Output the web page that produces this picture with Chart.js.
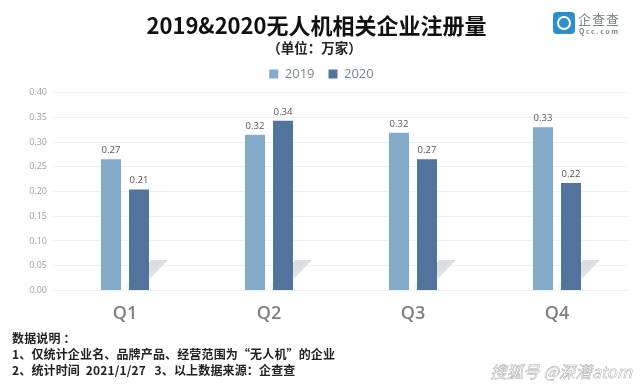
<!DOCTYPE html>
<html>
<head>
<meta charset="utf-8">
<script src="https://cdn.jsdelivr.net/npm/chart.js@4/dist/chart.umd.min.js"></script>
<style>
  html, body { margin: 0; background: #fff; }
  #wrap { position: relative; width: 640px; height: 385px; overflow: hidden; font-family: "Noto Sans CJK SC", sans-serif; }
  #notes { position: absolute; left: 12px; top: 330px; font-size: 12px; line-height: 16px; font-weight: 700; color: #222; white-space: pre; letter-spacing: 0.15px; }
  #mark { position: absolute; left: 490px; top: 359px; font-size: 16.5px; font-style: italic; color: #fff; -webkit-text-stroke: 0.5px #aaa; white-space: pre; }
  #logo { position: absolute; left: 553px; top: 12px; width: 22px; height: 22px; border-radius: 4px; background: #2a8fca; }
  #logo i { position: absolute; left: 4px; top: 4px; width: 10px; height: 10px; border: 2px solid #fff; border-radius: 50%; }
  #logoName { position: absolute; left: 578px; top: 9px; font-size: 13px; letter-spacing: 1px; color: #7a828c; }
  #logoSub { position: absolute; left: 579px; top: 26px; font-size: 7px; letter-spacing: 1.6px; font-weight: 700; color: #7a828c; }
</style>
</head>
<body>
<div id="wrap">
  <canvas id="chart" width="640" height="385"></canvas>
  <div id="logo"><i></i></div>
  <div id="logoName">企查查</div>
  <div id="logoSub">Qcc.com</div>
  <div id="notes">数据说明 ：
1、仅统计企业名、品牌产品、经营范围为“无人机”的企业
2、统计时间  2021/1/27   3、以上数据来源：企查查</div>
  <div id="mark">搜狐号 @深潜atom</div>
</div>
<script>
const quarters = ['Q1', 'Q2', 'Q3', 'Q4'];
const values2019 = [0.265, 0.315, 0.319, 0.33];
const values2020 = [0.204, 0.343, 0.265, 0.217];
const labels2019 = ['0.27', '0.32', '0.32', '0.33'];
const labels2020 = ['0.21', '0.34', '0.27', '0.22'];
const yMax = 0.4;
const yStep = 0.05;

// the header isn't centred on the canvas in the original, nudge it over
const headerShift = {
  id: 'headerShift',
  afterLayout(chart) {
    [chart.titleBlock, chart.$subtitle].forEach(box => {
      if (box) { box.left += 2; box.right += 2; }
    });
    chart.legend.left += 7;
    chart.legend.right += 7;
    chart.legend.top -= 2;
  }
};

// grey slanted shadow behind each pair of bars
const barShadows = {
  id: 'barShadows',
  beforeDatasetsDraw(chart) {
    const c = chart.ctx;
    const first = chart.getDatasetMeta(0).data;
    const second = chart.getDatasetMeta(1).data;
    first.forEach((bar, i) => {
      const right = bar.x + bar.width / 2;
      const end = second[i].x + second[i].width / 2;
      const base = bar.base;
      const g = c.createLinearGradient(0, base, 0, base - 30);
      g.addColorStop(0, 'rgba(225,225,225,0.1)');
      g.addColorStop(0.5, 'rgba(222,222,222,0.9)');
      g.addColorStop(1, 'rgba(220,220,220,1)');
      c.save();
      c.fillStyle = g;
      c.beginPath();
      c.moveTo(right, base);
      c.lineTo(end - 10, base);
      c.lineTo(end + 19, base - 30);
      c.lineTo(end + 3, base - 30);
      c.closePath();
      c.fill();
      c.restore();
    });
  }
};

// value labels over the bars
const barLabels = {
  id: 'barLabels',
  afterDatasetsDraw(chart) {
    const c = chart.ctx;
    c.save();
    c.font = '9.5px "Open Sans", sans-serif';
    c.fillStyle = '#555';
    c.textAlign = 'center';
    c.textBaseline = 'bottom';
    chart.data.datasets.forEach((ds, d) => {
      chart.getDatasetMeta(d).data.forEach((bar, i) => {
        c.fillText(ds.valueLabels[i], bar.x, bar.y - 4);
      });
    });
    c.restore();
  }
};

new Chart(document.getElementById('chart'), {
  type: 'bar',
  data: {
    labels: quarters,
    datasets: [
      { label: '2019', data: values2019, valueLabels: labels2019, backgroundColor: '#84abca' },
      { label: '2020', data: values2020, valueLabels: labels2020, backgroundColor: '#50749b' }
    ]
  },
  options: {
    responsive: false,
    animation: false,
    categoryPercentage: 0.389,
    barPercentage: 0.714,
    layout: { padding: { left: 0, right: 11, top: 12, bottom: 55 } },
    plugins: {
      tooltip: { enabled: false },
      title: {
        display: true,
        text: '2019&2020无人机相关企业注册量',
        color: '#111',
        font: { family: '"Noto Sans CJK SC"', size: 22, weight: '700', lineHeight: 1.2 },
        padding: { top: 0, bottom: 0 }
      },
      subtitle: {
        display: true,
        text: '（单位：万家）',
        color: '#222',
        font: { family: '"Noto Sans CJK SC"', size: 13.5, weight: '700', lineHeight: 1.2 },
        padding: { top: 1, bottom: 0 }
      },
      legend: {
        position: 'top',
        labels: {
          boxWidth: 9,
          boxHeight: 9,
          padding: 14,
          color: '#7b8794',
          font: { family: '"Open Sans"', size: 13 }
        }
      }
    },
    scales: {
      x: {
        grid: { display: false },
        border: { display: false },
        ticks: { color: '#808080', padding: 5, font: { family: '"Open Sans"', size: 18, weight: '600' } }
      },
      y: {
        min: 0,
        max: yMax,
        afterFit(axis) { axis.width = 53; },
        grid: { color: '#f0f0f0', drawTicks: false },
        border: { display: false },
        ticks: {
          stepSize: yStep,
          padding: 6,
          color: '#a0a0a0',
          font: { family: '"Open Sans"', size: 9 },
          callback: v => v.toFixed(2)
        }
      }
    }
  },
  plugins: [headerShift, barShadows, barLabels]
});
</script>
</body>
</html>
